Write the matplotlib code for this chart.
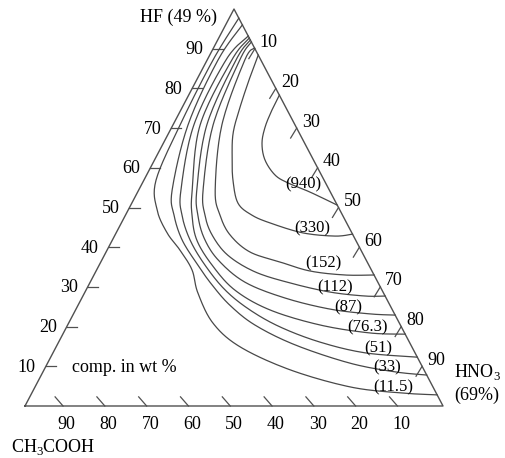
#%% Import libs
import numpy as np
import matplotlib.pyplot as plt

plt.rcParams['font.family'] = ['Liberation Serif', 'DejaVu Serif']
plt.rcParams['mathtext.fontset'] = 'custom'
plt.rcParams['mathtext.rm'] = 'Liberation Serif'

#%% Data: iso-etch curves as (HNO3 wt%, HF wt%), CH3COOH = rest
hno3_940 = [21.7, 21.8, 22.3, 23.6, 26.4, 30.7, 34.8, 41.2, 49.4]
hf_940 = [78.3, 74.6, 70.3, 66.2, 62.0, 58.2, 56.2, 53.9, 50.6]

hno3_330 = [11.6, 12.4, 13.8, 15.4, 18.2, 21.3, 25.4, 30.2, 35.6, 44.7, 52.8, 56.7]
hf_330 = [88.4, 82.9, 75.3, 68.8, 62.7, 56.9, 51.1, 48.1, 46.1, 43.6, 42.8, 43.3]

hno3_152 = [9.8, 9.0, 11.7, 18.3, 22.6, 27.5, 34.4, 42.8, 51.2, 60.0, 67.0]
hf_152 = [90.2, 87.2, 70.8, 54.4, 48.1, 43.1, 38.8, 36.3, 34.0, 33.0, 33.0]

hno3_112 = [8.3, 7.8, 9.6, 15.4, 19.0, 23.2, 29.5, 38.1, 47.9, 58.6, 67.5, 72.3]
hf_112 = [91.7, 87.2, 70.8, 54.4, 48.1, 43.1, 38.0, 33.8, 31.0, 28.7, 27.7, 27.7]

hno3_87 = [7.8, 6.9, 8.1, 13.9, 17.3, 21.7, 27.8, 37.0, 48.6, 60.8, 70.9, 77.1]
hf_87 = [92.2, 87.2, 70.8, 54.4, 48.1, 42.3, 36.8, 31.2, 27.2, 24.4, 23.2, 22.9]

hno3_76 = [7.3, 5.9, 6.5, 12.8, 15.9, 20.2, 27.0, 35.6, 46.5, 60.4, 73.3, 81.9]
hf_76 = [92.7, 87.2, 70.8, 54.4, 48.1, 41.8, 35.5, 29.2, 24.2, 20.4, 18.4, 18.1]

hno3_51 = [6.8, 4.5, 5.0, 10.1, 13.5, 18.6, 25.3, 33.3, 41.7, 51.1, 62.5, 74.6, 87.7]
hf_51 = [93.2, 87.2, 70.8, 54.4, 48.1, 41.8, 35.5, 29.2, 24.2, 19.9, 16.1, 13.4, 12.3]

hno3_33 = [4.0, 2.6, 3.6, 8.0, 11.6, 16.7, 23.6, 29.5, 36.3, 44.8, 56.9, 72.3, 84.2, 92.2]
hf_33 = [96.0, 87.2, 70.8, 54.4, 48.1, 41.8, 35.5, 30.5, 25.4, 20.4, 15.4, 10.8, 8.6, 7.8]

hno3_11 = [2.3, 1.4, 1.7, 2.9, 6.9, 12.2, 17.4, 22.8, 27.1, 34.5, 44.0, 58.9, 75.4, 88.1, 97.2]
hf_11 = [97.7, 87.2, 70.8, 56.9, 49.4, 43.6, 39.3, 34.3, 28.5, 20.9, 14.9, 9.1, 4.8, 3.3, 2.8]

curves = [(hno3_940, hf_940), (hno3_330, hf_330), (hno3_152, hf_152),
          (hno3_112, hf_112), (hno3_87, hf_87), (hno3_76, hf_76),
          (hno3_51, hf_51), (hno3_33, hf_33), (hno3_11, hf_11)]

# etch-rate labels and where they sit (HNO3, HF)
rate_labels = ['(940)', '(330)', '(152)', '(112)', '(87)', '(76.3)', '(51)', '(33)', '(11.5)']
label_hno3 = [38.7, 46.2, 53.3, 59.2, 64.8, 72.1, 77.2, 81.8, 85.6]
label_hf = [55.7, 44.8, 36.0, 30.0, 24.9, 19.9, 14.4, 9.6, 4.8]

ticks = [10, 20, 30, 40, 50, 60, 70, 80, 90]


#%% Helpers
def tern(hno3, hf):
    hno3 = np.asarray(hno3, float)
    hf = np.asarray(hf, float)
    return hno3 + hf / 2, hf


def smooth(x, y, n=16):
    # Catmull-Rom through the read points, just for drawing
    p = np.column_stack([x, y])
    p = np.vstack([p[0], p, p[-1]])
    t = np.linspace(0, 1, n, endpoint=False)[:, None]
    out = []
    for i in range(1, len(p) - 2):
        p0, p1, p2, p3 = p[i - 1], p[i], p[i + 1], p[i + 2]
        out.append(0.5 * (2 * p1 + (-p0 + p2) * t
                          + (2 * p0 - 5 * p1 + 4 * p2 - p3) * t ** 2
                          + (-p0 + 3 * p1 - 3 * p2 + p3) * t ** 3))
    out.append(p[-2][None])
    out = np.vstack(out)
    return out[:, 0], out[:, 1]


#%% Plot
fig = plt.figure(figsize=(5.06, 4.58), dpi=100)
ax = fig.add_axes([0, 0, 1, 1])
ax.set_xlim(-5.98, 115.07)
ax.set_ylim(-13.1, 102.27)
ax.axis('off')

edge_c = '#505050'
line_c = '#484848'

# triangle
tx, ty = tern([0, 100, 0, 0], [0, 0, 100, 0])
ax.plot(tx, ty, color=edge_c, lw=1.0)

# ticks
for v in ticks:
    # HF on left edge
    x, y = tern(0, v)
    ax.plot([x, x + 2.4], [y, y], color=edge_c, lw=0.9)
    ax.annotate(str(v), (x, y), xytext=(-10, -1), textcoords='offset pixels',
                ha='right', va='center', fontsize=13)
    # HNO3 on right edge
    x, y = tern(v, 100 - v)
    ax.plot([x, x - 1.45], [y, y - 2.5], color=edge_c, lw=0.9)
    ax.annotate(str(v), (x, y), xytext=(5, 6), textcoords='offset pixels',
                ha='left', va='center', fontsize=13)
    # CH3COOH on bottom edge
    x, y = tern(100 - v, 0)
    ax.plot([x - 0.9, x - 2.8], [0, 2.3], color=edge_c, lw=0.9)
    ax.annotate(str(v), (x, y), xytext=(0, -10), textcoords='offset pixels',
                ha='center', va='top', fontsize=13)

# iso-etch curves
for hno3, hf in curves:
    x, y = tern(hno3, hf)
    sx, sy = smooth(x, y)
    ax.plot(sx, sy, color=line_c, lw=0.9)

for lab, b, a in zip(rate_labels, label_hno3, label_hf):
    x, y = tern(b, a)
    ax.text(x, y, lab, ha='center', va='center', fontsize=12)

# corner labels
ax.text(0.428, 0.962, 'HF (49 %)', transform=ax.transAxes, ha='right', va='center', fontsize=13)
ax.text(0.898, 0.164, 'HNO$_3$\n(69%)', transform=ax.transAxes, ha='left', va='center',
        fontsize=13, linespacing=1.3)
ax.text(0.022, 0.024, 'CH$_3$COOH', transform=ax.transAxes, ha='left', va='center', fontsize=13)
ax.text(0.143, 0.197, 'comp. in wt %', transform=ax.transAxes, ha='left', va='center', fontsize=13)

fig.savefig('out.png', dpi=100)
